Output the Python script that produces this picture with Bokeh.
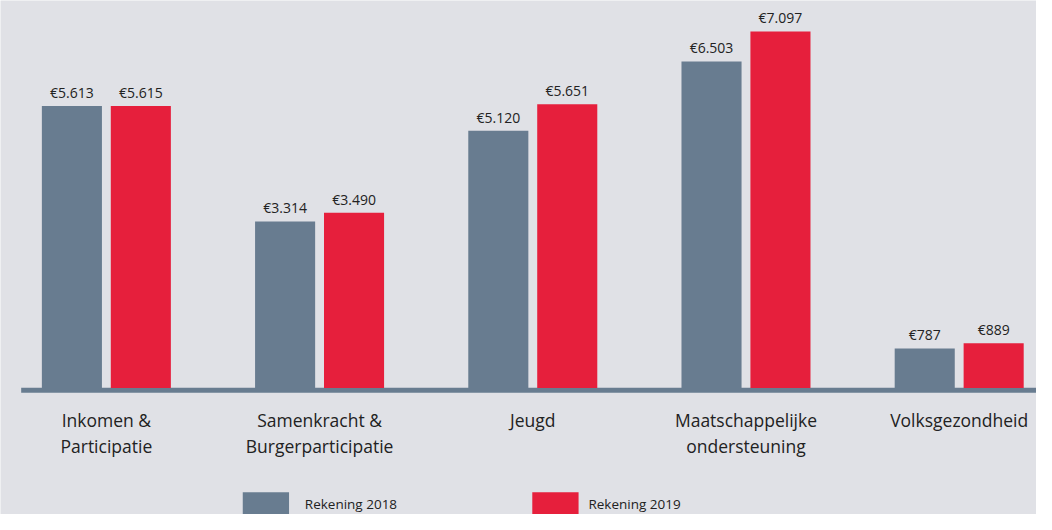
from bokeh.plotting import figure
from bokeh.models import ColumnDataSource, Range1d
from bokeh.core.properties import value
from bokeh.embed import file_html
from bokeh.resources import INLINE

# ---- data ----
categories_line1 = ["Inkomen &", "Samenkracht &", "Jeugd", "Maatschappelijke", "Volksgezondheid"]
categories_line2 = ["Participatie", "Burgerparticipatie", "", "ondersteuning", ""]
series_names = ["Rekening 2018", "Rekening 2019"]
values_2018 = [5613, 3314, 5120, 6503, 787]
values_2019 = [5615, 3490, 5651, 7097, 889]

# ---- style ----
BG = "#e0e1e6"
GREY = "#687c90"
RED = "#e61f3c"
TXT = "#222222"
FONT = "Open Sans"

W, H = 1036, 514
REF_W, REF_H = 1052, 530
KX, KY = W / REF_W, H / REF_H

U = 216.5            # layout px per group
S = 0.05178          # layout px per value unit
ZERO = 399.5         # layout y of the value axis zero
C0 = 107.5           # layout x of first group centre

x0 = -C0 / U
x1 = (REF_W - C0) / U
y1 = ZERO / S
y0 = -(REF_H - ZERO) / S

def gx(lx):
    return (lx - C0) / U

def gy(ly):
    return (ZERO - ly) / S

def fmt(v):
    return "€" + f"{v:,}".replace(",", ".")

p = figure(width=W, height=H, x_range=Range1d(x0, x1), y_range=Range1d(y0, y1),
           output_backend="svg", toolbar_location=None, min_border=0)
p.axis.visible = False
p.grid.visible = False
p.outline_line_color = None
p.background_fill_color = BG
p.border_fill_color = BG

idx = list(range(len(values_2018)))
off = 35 / U
bw = 61 / U
lab_gap = 14 / S

src18 = ColumnDataSource(dict(x=[i - off for i in idx], top=values_2018,
                              ly=[v + lab_gap for v in values_2018],
                              lab=[fmt(v) for v in values_2018]))
src19 = ColumnDataSource(dict(x=[i + off for i in idx], top=values_2019,
                              ly=[v + lab_gap for v in values_2019],
                              lab=[fmt(v) for v in values_2019]))

# baseline
p.segment(x0=[gx(21)], y0=[gy(401.8)], x1=[x1], y1=[gy(401.8)],
          line_color=GREY, line_width=5)

p.vbar(x="x", top="top", bottom=0, width=bw, source=src18, fill_color=GREY, line_color=None)
p.vbar(x="x", top="top", bottom=0, width=bw, source=src19, fill_color=RED, line_color=None)

for src in (src18, src19):
    p.text(x="x", y="ly", text="lab", source=src, text_align="center",
           text_baseline="middle", text_font=value(FONT), text_font_size="14px",
           text_color=TXT)

cat = ColumnDataSource(dict(x=idx, l1=categories_line1, l2=categories_line2))
p.text(x="x", y=gy(433), text="l1", source=cat, text_align="center",
       text_baseline="middle", text_font=value(FONT), text_font_size="17.5px",
       text_color=TXT)
p.text(x="x", y=gy(459), text="l2", source=cat, text_align="center",
       text_baseline="middle", text_font=value(FONT), text_font_size="17.5px",
       text_color=TXT)

# legend
leg = ColumnDataSource(dict(sx=[gx(269.5), gx(563.5)], tx=[gx(309), gx(597)],
                            name=series_names, color=[GREY, RED]))
p.rect(x="sx", y=gy(519.5), width=47 * KX, height=25 * KY, width_units="screen",
       height_units="screen", source=leg, fill_color="color", line_color=None)
p.text(x="tx", y=gy(519), text="name", source=leg, text_align="left",
       text_baseline="middle", text_font=value(FONT), text_font_size="13.5px", text_color=TXT)

open("out.html", "w").write(file_html(p, INLINE))
